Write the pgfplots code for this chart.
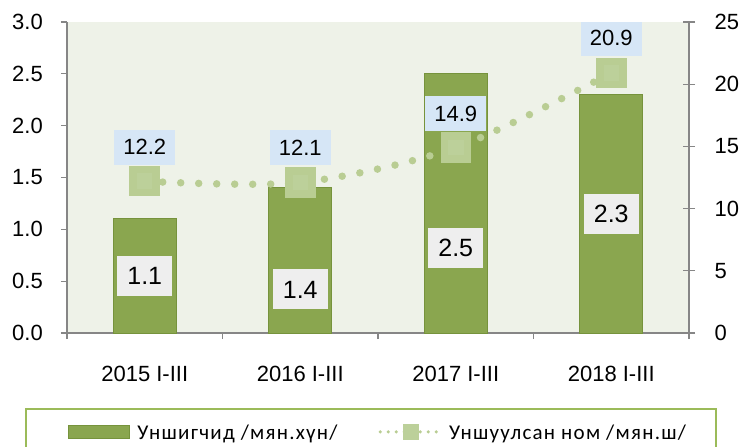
\documentclass[border=0pt]{standalone}
\usepackage{fontspec}
\setmainfont{Liberation Sans}
\newfontfamily\legfont[LetterSpace=6]{Carlito}
\usepackage{pgfplots}
\pgfplotsset{compat=1.18}
\definecolor{barfill}{HTML}{8AA64F}
\definecolor{bardark}{HTML}{76933C}
\definecolor{linecol}{HTML}{B9CD93}
\definecolor{markcol}{HTML}{BCD09A}
\definecolor{bgcol}{HTML}{EEF2E8}
\definecolor{axcol}{HTML}{868686}
\definecolor{legbord}{HTML}{9BBB59}
\definecolor{lblblue}{HTML}{D6E6F6}
\definecolor{lblgrey}{HTML}{EEEEEE}
\tikzset{
  barlbl/.style={fill=lblgrey, minimum width=55pt, minimum height=40pt, inner sep=0pt, font=\fontsize{25}{30}\selectfont},
  linelbl/.style={fill=lblblue, minimum width=61pt, minimum height=35pt, inner sep=0pt, font=\fontsize{22}{26}\selectfont},
}
\begin{document}
\begin{tikzpicture}
\path[use as bounding box] (-67pt,-114pt) rectangle (672pt,333pt);
\begin{axis}[
  at={(0pt,0pt)}, anchor=south west,
  scale only axis, width=622pt, height=311pt,
  xmin=-0.5, xmax=3.5, ymin=0, ymax=3,
  axis background/.style={fill=bgcol},
  axis x line*=bottom, axis y line*=left,
  axis line style={draw=axcol, line width=1.3pt},
  tick style={draw=axcol, line width=1.3pt},
  tick align=outside, major tick length=6pt,
  xtick={-0.5,0.5,1.5,2.5,3.5},
  x tick label as interval,
  xticklabels={2015 I-III,2016 I-III,2017 I-III,2018 I-III},
  ytick={0,0.5,1,1.5,2,2.5,3},
  /pgf/number format/fixed, /pgf/number format/fixed zerofill,
  /pgf/number format/precision=1,
  /pgf/number format/assume math mode=true,
  tick label style={font=\fontsize{22}{26}\selectfont},
  yticklabel style={anchor=east, inner sep=0pt, xshift=-18pt},
  xticklabel style={yshift=-24pt},
]
\addplot[ybar, bar width=0.405, fill=barfill, draw=bardark, line width=1pt]
  coordinates {(0,1.1) (1,1.4) (2,2.5) (3,2.3)};
\node[barlbl] at (axis cs:0,0.55) {1.1};
\node[barlbl] at (axis cs:1,0.42) {1.4};
\node[barlbl] at (axis cs:2,0.82) {2.5};
\node[barlbl] at (axis cs:3,1.15) {2.3};
\end{axis}
\begin{axis}[
  at={(0pt,0pt)}, anchor=south west,
  scale only axis, width=622pt, height=311pt,
  xmin=-0.5, xmax=3.5, ymin=0, ymax=25,
  axis x line=none, axis y line*=right,
  axis line style={draw=axcol, line width=1.3pt},
  tick style={draw=axcol, line width=1.3pt},
  tick align=center, major tick length=12pt,
  ytick={0,5,10,15,20,25},
  /pgf/number format/assume math mode=true,
  tick label style={font=\fontsize{22}{26}\selectfont},
  yticklabel style={xshift=16pt},
  legend columns=2,
  legend cell align=left,
  legend style={at={(0,0)}, anchor=north west, xshift=-42pt, yshift=-75pt,
    draw=legbord, line width=2pt, fill=none, inner xsep=30pt, inner ysep=15pt,
    font=\legfont\fontsize{21}{25}\selectfont,
    nodes={inner sep=0pt, text depth=0pt},
    /tikz/every odd column/.append style={column sep=7pt},
    /tikz/every even column/.append style={column sep=41pt}},
]
\addlegendimage{legend image code/.code={
  \path (0pt,0pt);
  \draw[fill=barfill, draw=bardark, line width=1pt, solid] (12pt,-6.5pt) rectangle (73pt,6.5pt);}}
\addlegendentry{Уншигчид /мян.хүн/}
\addplot[linecol, line width=7.5pt, line cap=round, dash pattern=on 0pt off 18pt, smooth,
  mark=square*, mark size=11.5pt, mark options={solid, fill=markcol, draw=none},
  legend image code/.code={
    \draw[linecol, line width=3.5pt, line cap=round, dash pattern=on 0pt off 8pt] (2pt,0pt) -- (62pt,0pt);
    \path[fill=markcol, draw=none, solid] (24.5pt,-7.8pt) rectangle (40.5pt,7.8pt);}]
  coordinates {(0,12.2) (1,12.1) (2,14.9) (3,20.9)};
\addlegendentry{Уншуулсан ном /мян.ш/}
\node[linelbl] at (axis cs:0,12.2) [yshift=34pt] {12.2};
\node[linelbl] at (axis cs:1,12.1) [yshift=35pt] {12.1};
\node[linelbl] at (axis cs:2,14.9) [yshift=34pt] {14.9};
\node[linelbl] at (axis cs:3,20.9) [yshift=35pt] {20.9};
\end{axis}
\end{tikzpicture}
\end{document}
